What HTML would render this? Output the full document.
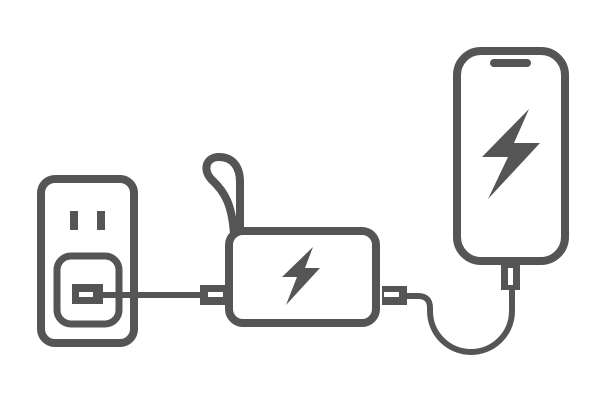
<!DOCTYPE html>
<html><head><style>html,body{margin:0;padding:0;background:#fff}svg{display:block}</style></head>
<body>
<svg width="600" height="400" viewBox="0 0 600 400" xmlns="http://www.w3.org/2000/svg">
<g fill="none" stroke="#555" stroke-width="8" stroke-linejoin="round">
  <rect x="41" y="179" width="93" height="164" rx="14"/>
  <rect x="57" y="256" width="62" height="68" rx="14" stroke-width="7"/>
  <rect x="229" y="231" width="147" height="92" rx="14"/>
  <rect x="457" y="51" width="108" height="210" rx="24"/>
  <path d="M234,234 C232,205 225,192 212,180 C202,170 206,157 219,157 C232,157 240,166 240,182 V232"/>
  <path d="M103,295 H205" stroke-width="6"/>
  <path d="M407,296 H418 Q430,296 430,308 V311 A41 41 0 0 0 512 311 V288" stroke-width="6"/>
</g>
<g fill="#555">
  <rect x="70" y="211" width="8" height="19"/>
  <rect x="97" y="211" width="8" height="19"/>
  <rect x="72" y="284" width="31" height="20"/>
  <rect x="200" y="285" width="25" height="20"/>
  <rect x="382" y="286" width="25" height="19"/>
  <rect x="501" y="263" width="19" height="27"/>
  <rect x="490" y="59" width="41" height="8" rx="4"/>
  <polygon points="529,109 482,157 508,157 488,199 540,143 514,143"/>
  <polygon points="313,247 282,277 297,277 286,305 320,268 305,268"/>
</g>
<g fill="#fff">
  <rect x="79" y="292" width="14" height="5"/>
  <rect x="208" y="292" width="15" height="5"/>
  <rect x="384" y="292" width="15" height="5"/>
  <rect x="508" y="268" width="5" height="17"/>
</g>
</svg>
</body></html>
